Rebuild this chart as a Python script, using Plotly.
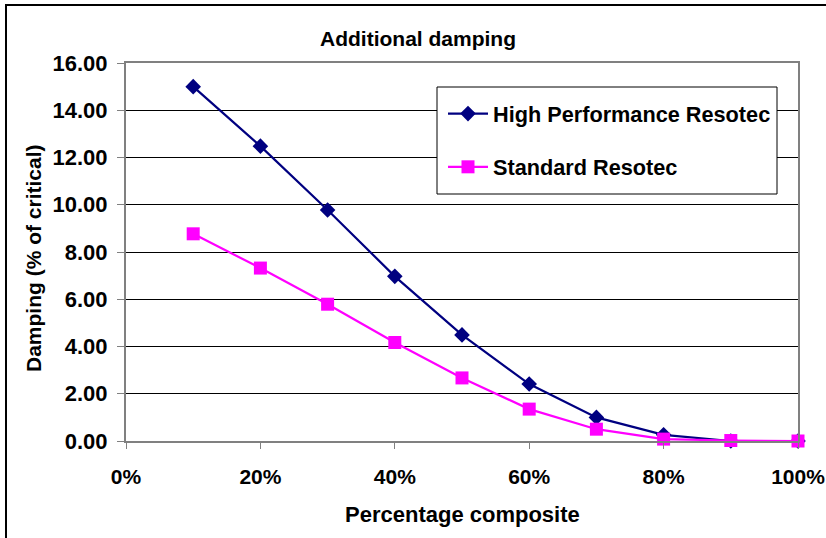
import plotly.graph_objects as go

x_vals = [0.1, 0.2, 0.3, 0.4, 0.5, 0.6, 0.7, 0.8, 0.9, 1.0]
high_perf = [15.0, 12.48, 9.78, 6.97, 4.49, 2.41, 1.0, 0.26, 0.0, 0.0]
standard = [8.77, 7.32, 5.79, 4.17, 2.67, 1.35, 0.5, 0.08, 0.02, 0.0]

FONT = "Arial, Liberation Sans, sans-serif"

fig = go.Figure()
fig.add_trace(go.Scatter(
    x=x_vals, y=high_perf, mode="lines+markers", name="High Performance Resotec",
    line=dict(color="#000080", width=2.2),
    marker=dict(symbol="diamond", size=12, color="#000080"),
    legendgroup="a", cliponaxis=False,
))
fig.add_trace(go.Scatter(
    x=x_vals, y=standard, mode="lines+markers", name="Standard Resotec",
    line=dict(color="#FF00FF", width=2.2),
    marker=dict(symbol="square", size=13, color="#FF00FF"),
    legendgroup="b", cliponaxis=False,
))

def px(xp):
    return (xp - 126) / 672

def py(yp):
    return (441 - yp) / 378

fig.update_layout(
    width=826, height=538,
    margin=dict(l=126, r=28, t=63, b=97),
    paper_bgcolor="white", plot_bgcolor="white",
    font=dict(family=FONT, size=21, color="black", weight="bold"),
    showlegend=True,
    legend=dict(
        x=px(443), y=py(93), xanchor="left", yanchor="top",
        borderwidth=0, bgcolor="rgba(0,0,0,0)",
        font=dict(family=FONT, size=21.7, color="black", weight="bold"),
        traceorder="grouped", tracegroupgap=22, itemwidth=40,
    ),
    xaxis=dict(
        range=[0, 1], dtick=0.2, tick0=0, tickformat=".0%",
        showgrid=False, zeroline=False, automargin=False,
        showline=True, linecolor="#808080", linewidth=2, mirror=True,
        ticks="outside", ticklen=6, tickcolor="#808080", tickwidth=1,
        ticklabelstandoff=10,
        tickfont=dict(family=FONT, size=21, color="black", weight="bold"),
    ),
    yaxis=dict(
        range=[0, 16], dtick=2, tick0=0, tickformat=".2f",
        showgrid=True, gridcolor="black", gridwidth=1, zeroline=False, automargin=False,
        showline=True, linecolor="#808080", linewidth=2, mirror=True,
        ticks="outside", ticklen=7, tickcolor="#808080", tickwidth=1,
        ticklabelstandoff=5,
        tickfont=dict(family=FONT, size=22, color="black", weight="bold"),
    ),
    shapes=[
        dict(type="rect", xref="paper", yref="paper",
             x0=px(6), x1=1.3, y0=-0.5, y1=py(5),
             line=dict(color="black", width=2), fillcolor="rgba(0,0,0,0)", layer="below"),
        dict(type="rect", xref="paper", yref="paper",
             x0=px(437), x1=px(777), y0=py(194), y1=py(87),
             line=dict(color="black", width=1), fillcolor="white", layer="above"),
    ],
    annotations=[
        dict(text="Additional damping", xref="paper", yref="paper",
             x=px(418), y=py(38), xanchor="center", yanchor="middle",
             showarrow=False, font=dict(family=FONT, size=21, color="black", weight="bold")),
        dict(text="Percentage composite", xref="paper", yref="paper",
             x=0.5, y=py(514), xanchor="center", yanchor="middle",
             showarrow=False, font=dict(family=FONT, size=22, color="black", weight="bold")),
        dict(text="Damping (% of critical)", xref="paper", yref="paper",
             x=px(33), y=py(258), xanchor="center", yanchor="middle",
             textangle=-90,
             showarrow=False, font=dict(family=FONT, size=21, color="black", weight="bold")),
    ],
)

fig.write_html("out.html")
